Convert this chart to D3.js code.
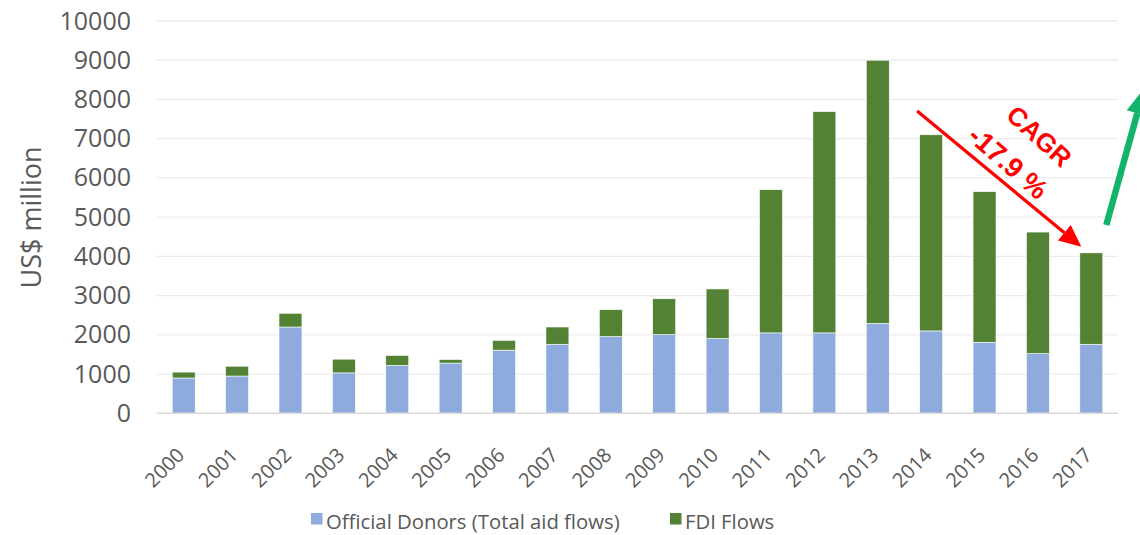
<!DOCTYPE html>
<html><head><meta charset="utf-8">
<script src="https://cdn.jsdelivr.net/npm/d3@7"></script>
<style>body{margin:0;background:#fff}svg{display:block}</style>
</head><body><svg id="c" width="1140" height="535"></svg>
<script>
const years = ["2000","2001","2002","2003","2004","2005","2006","2007","2008","2009","2010","2011","2012","2013","2014","2015","2016","2017"];
const officialDonors = [900,950,2200,1030,1220,1280,1610,1760,1955,2005,1905,2050,2050,2290,2100,1810,1520,1760];
const fdiFlows = [150,250,350,350,255,90,250,440,685,915,1265,3650,5640,6710,5000,3840,3100,2330];
const yTicks = [0,1000,2000,3000,4000,5000,6000,7000,8000,9000,10000];
const seriesNames = ["Official Donors (Total aid flows)","FDI Flows"];
const seriesColors = ["#8faadc","#548235"];
const cagrLabel = ["CAGR","-17.9 %"];

const svg = d3.select("#c");
const font = "'Open Sans', sans-serif";
const x = d3.scaleBand().domain(years).range([157,1118]).paddingInner(0.57).paddingOuter(0.285);
const y = d3.scaleLinear().domain([0,10000]).range([413.3,21]);

// gridlines
svg.append("g").selectAll("line").data(yTicks.filter(d=>d>0)).join("line")
  .attr("x1",157).attr("x2",1118).attr("y1",d=>y(d)).attr("y2",d=>y(d))
  .attr("stroke","#ececec").attr("stroke-width",1.3);

// y axis labels
const ya = svg.append("g").attr("transform","translate(131,0)")
  .call(d3.axisLeft(y).tickValues(yTicks).tickSize(0).tickPadding(0).tickFormat(d3.format("d")));
ya.select(".domain").remove();
ya.selectAll("text").attr("font-family",font).attr("font-size",25).attr("fill","#595959");

// stacked bars
const rows = years.map((yr,i)=>({year:yr, od:officialDonors[i], fdi:fdiFlows[i]}));
const stack = d3.stack().keys(["od","fdi"])(rows);
svg.append("g").selectAll("g").data(stack).join("g").attr("fill",(d,i)=>seriesColors[i])
  .selectAll("rect").data(d=>d).join("rect")
  .attr("x",d=>x(d.data.year)).attr("width",x.bandwidth())
  .attr("y",d=>y(d[1])).attr("height",d=>y(d[0])-y(d[1]))
  .attr("stroke","#ffffff").attr("stroke-width",0.6);

// baseline
svg.append("line").attr("x1",157).attr("x2",1118).attr("y1",y(0)).attr("y2",y(0))
  .attr("stroke","#d9d9d9").attr("stroke-width",1.5);

// x labels
svg.append("g").selectAll("text").data(years).join("text")
  .attr("transform",d=>`translate(${x(d)+x.bandwidth()/2+2},${y(0)+43}) rotate(-45)`)
  .attr("text-anchor","end").attr("font-family",font).attr("font-size",20).attr("fill","#595959")
  .text(d=>d);

// y title
svg.append("text").attr("transform",`translate(41,${(145+290)/2}) rotate(-90)`)
  .attr("text-anchor","middle").attr("font-family",font).attr("font-size",27).attr("fill","#595959")
  .text("US$ million");

// legend
const lg = [{x:311, c:seriesColors[0], t:seriesNames[0]},{x:670, c:seriesColors[1], t:seriesNames[1]}];
const lgg = svg.append("g").selectAll("g").data(lg).join("g").attr("transform",d=>`translate(${d.x},513)`);
lgg.append("rect").attr("width",11.5).attr("height",11.5).attr("fill",d=>d.c);
lgg.append("text").attr("x",15).attr("y",15.5).attr("font-family",font).attr("font-size",20.3).attr("fill","#595959").text(d=>d.t);

// red CAGR arrow
const x14 = x("2014")+x.bandwidth()/2, x17 = x("2017")+x.bandwidth()/2;
const ax1 = x14-14, ay1 = y(7706), ax2 = x17-10, ay2 = y(4243);
const ang = Math.atan2(ay2-ay1, ax2-ax1);
const hl = 22, hw = 10;
const bx = ax2 - hl*Math.cos(ang), by = ay2 - hl*Math.sin(ang);
svg.append("line").attr("x1",ax1).attr("y1",ay1).attr("x2",bx).attr("y2",by)
  .attr("stroke","#ff0000").attr("stroke-width",3.3);
svg.append("path").attr("fill","#ff0000")
  .attr("d",`M${ax2},${ay2}L${bx+hw*Math.sin(ang)},${by-hw*Math.cos(ang)}L${bx-hw*Math.sin(ang)},${by+hw*Math.cos(ang)}Z`);
const deg = ang*180/Math.PI + 1.5;
const redFont = "'Liberation Sans', Arial, sans-serif";
svg.append("text").attr("transform",`translate(${x17-52},${y(7060)}) rotate(${deg+1})`)
  .attr("text-anchor","middle").attr("dominant-baseline","central")
  .attr("font-family",redFont).attr("font-weight","bold").attr("font-size",26)
  .attr("fill","#ff0000").text(cagrLabel[0]);
svg.append("text").attr("transform",`translate(${x17-83},${y(6390)}) rotate(${deg})`)
  .attr("text-anchor","middle").attr("dominant-baseline","central")
  .attr("font-family",redFont).attr("font-weight","bold").attr("font-size",27.5)
  .attr("fill","#ff0000").text(cagrLabel[1]);

// green arrow (partly off-canvas)
const gx1 = x17+15, gy1 = y(4800), gx2 = x17+46, gy2 = y(7650);
const ga = Math.atan2(gy2-gy1, gx2-gx1);
svg.append("line").attr("x1",gx1).attr("y1",gy1).attr("x2",gx2).attr("y2",gy2)
  .attr("stroke","#12b36a").attr("stroke-width",6.5);
const ghl = 26, ghw = 11;
const gtx = gx2 + ghl*Math.cos(ga), gty = gy2 + ghl*Math.sin(ga);
svg.append("path").attr("fill","#12b36a")
  .attr("d",`M${gtx},${gty}L${gx2+ghw*Math.sin(ga)},${gy2-ghw*Math.cos(ga)}L${gx2-ghw*Math.sin(ga)},${gy2+ghw*Math.cos(ga)}Z`);
</script></body></html>
